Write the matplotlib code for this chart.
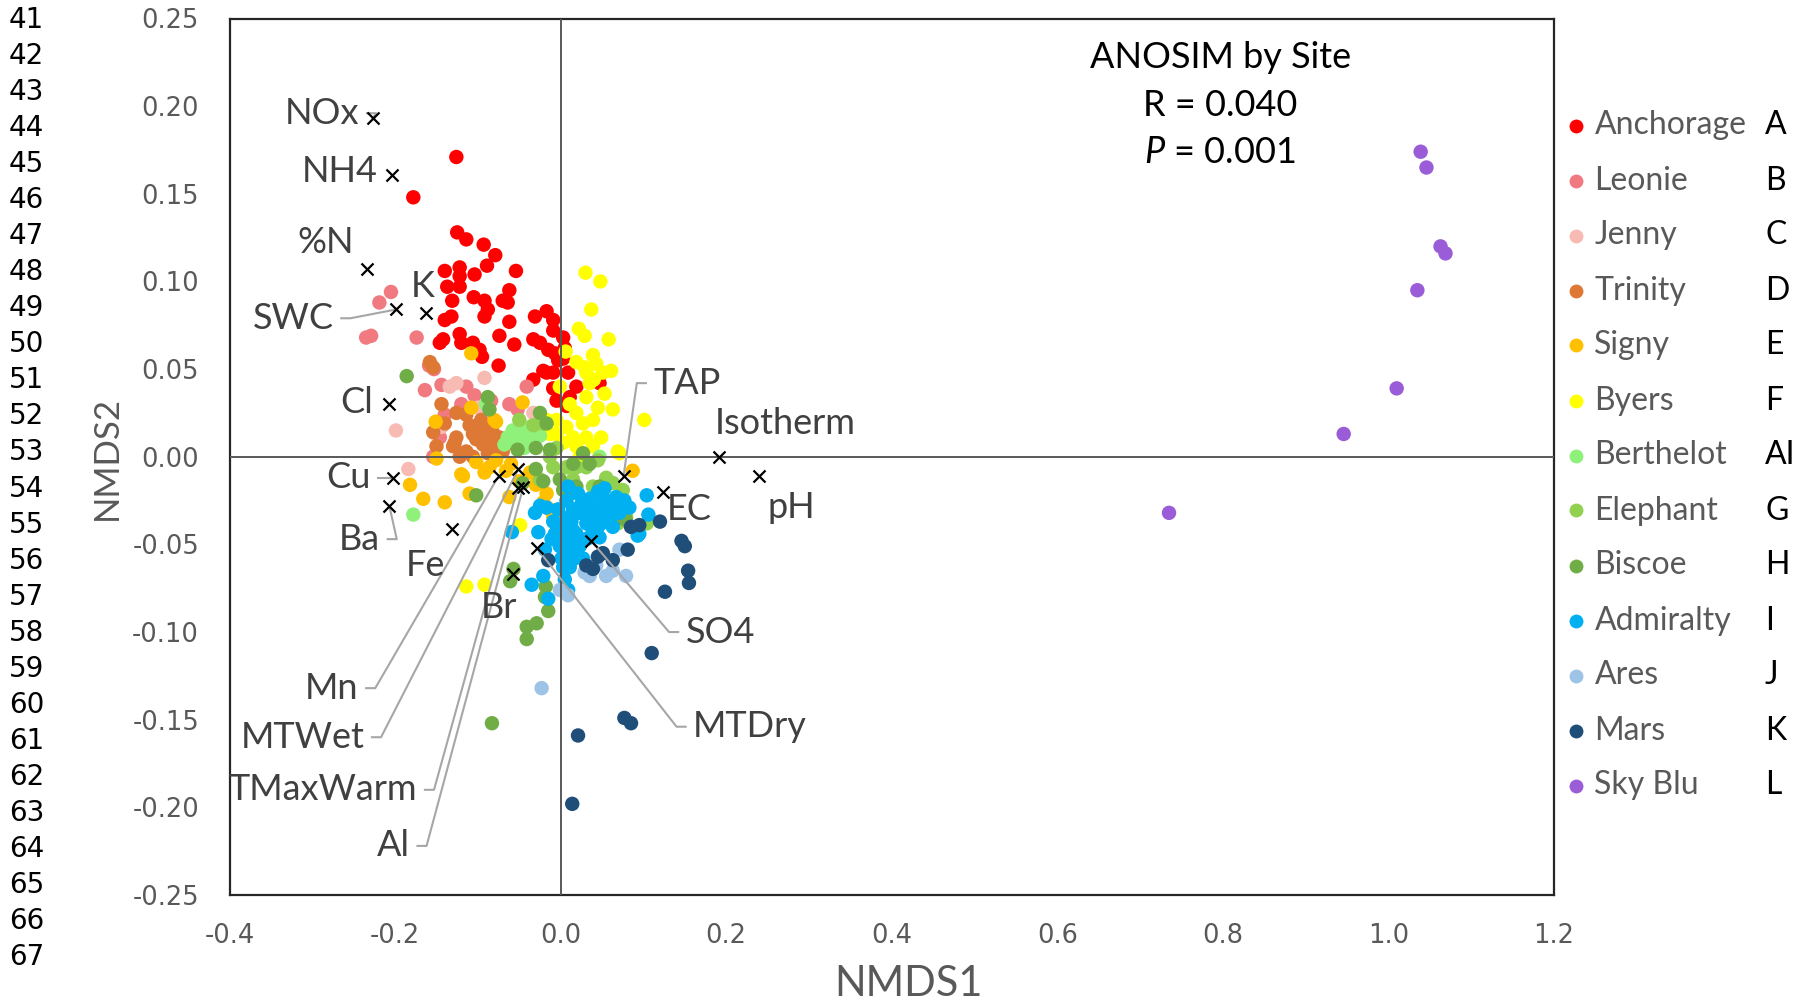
import numpy as np
import matplotlib
matplotlib.use("Agg")
import matplotlib.pyplot as plt
from matplotlib.lines import Line2D

plt.rcParams['axes.unicode_minus'] = False
plt.rcParams['mathtext.fontset'] = 'custom'
plt.rcParams['mathtext.rm'] = 'Lato'
plt.rcParams['mathtext.it'] = 'Lato:italic'

# site samples (NMDS1, NMDS2)
sites = ['Anchorage', 'Leonie', 'Jenny', 'Trinity', 'Signy', 'Byers', 'Berthelot',
         'Elephant', 'Biscoe', 'Admiralty', 'Ares', 'Mars', 'Sky Blu']
site_codes = ['A', 'B', 'C', 'D', 'E', 'F', 'AI', 'G', 'H', 'I', 'J', 'K', 'L']
site_colors = ['#FF0000', '#F07A80', '#F8BBB4', '#DE7935', '#FFC000', '#FFFF00', '#8FF07A',
               '#92D050', '#70AD47', '#00B0F0', '#9DC3E6', '#1F4E79', '#9B5CD8']

anchorage = [(-0.126, 0.171), (-0.178, 0.148), (-0.125, 0.128), (-0.114, 0.124), (-0.093, 0.121),
             (-0.079, 0.115), (-0.054, 0.106), (-0.089, 0.109), (-0.140, 0.106), (-0.122, 0.108),
             (-0.122, 0.103), (-0.104, 0.104), (-0.137, 0.097), (-0.122, 0.097), (-0.062, 0.095),
             (-0.131, 0.089), (-0.105, 0.091), (-0.092, 0.089), (-0.070, 0.089), (-0.064, 0.088),
             (-0.088, 0.084), (-0.092, 0.080), (-0.140, 0.078), (-0.132, 0.080), (-0.062, 0.077),
             (-0.122, 0.070), (-0.074, 0.069), (-0.142, 0.067), (-0.146, 0.065), (-0.120, 0.065),
             (-0.106, 0.065), (-0.056, 0.064), (-0.098, 0.061), (-0.095, 0.057), (-0.075, 0.052),
             (-0.031, 0.080), (-0.017, 0.083), (-0.009, 0.078), (-0.009, 0.072), (0.003, 0.068),
             (-0.033, 0.067), (-0.025, 0.065), (-0.015, 0.061), (-0.007, 0.059), (0.003, 0.056),
             (-0.021, 0.049), (-0.009, 0.048), (0.009, 0.048), (-0.033, 0.044), (0.019, 0.040),
             (-0.017, 0.048), (-0.009, 0.039), (0.011, 0.034), (0.007, 0.029), (0.047, 0.042),
             (-0.005, 0.032), (-0.003, 0.055), (0.005, 0.062)]
leonie = [(-0.205, 0.094), (-0.219, 0.088), (-0.229, 0.069), (-0.235, 0.068), (-0.174, 0.068),
          (-0.159, 0.052), (-0.153, 0.050), (-0.164, 0.038), (-0.144, 0.041), (-0.114, 0.040),
          (-0.041, 0.040), (-0.052, 0.027), (-0.104, 0.035), (-0.140, 0.024), (-0.146, 0.011),
          (-0.154, 0.000), (-0.062, 0.030), (-0.120, 0.030), (-0.084, 0.032)]
jenny = [(-0.199, 0.015), (-0.134, 0.040), (-0.126, 0.042), (-0.184, -0.007), (-0.100, 0.028),
         (-0.033, 0.025), (-0.144, 0.017), (-0.092, 0.045)]
trinity = [(-0.158, 0.054), (-0.154, 0.051), (-0.144, 0.030), (-0.126, 0.025), (-0.114, 0.024),
           (-0.140, 0.019), (-0.154, 0.014), (-0.150, 0.006), (-0.128, 0.008), (-0.118, 0.002),
           (-0.106, 0.013), (-0.098, 0.015), (-0.090, 0.017), (-0.082, 0.014), (-0.102, 0.010),
           (-0.086, 0.010), (-0.094, 0.007), (-0.114, 0.003), (-0.074, 0.011), (-0.070, 0.003),
           (-0.106, 0.000), (-0.122, 0.000), (-0.078, 0.006), (-0.126, 0.011), (-0.130, 0.006),
           (-0.096, 0.021), (-0.088, 0.002), (-0.110, 0.018), (-0.062, 0.008)]
signy = [(-0.108, 0.028), (-0.080, 0.021), (-0.151, 0.020), (-0.150, -0.001), (-0.120, -0.010),
         (-0.182, -0.016), (-0.166, -0.024), (-0.140, -0.026), (-0.110, -0.021), (-0.092, -0.009),
         (-0.102, -0.003), (-0.086, -0.006), (-0.108, 0.059), (-0.078, -0.002), (-0.066, -0.008),
         (-0.078, 0.020), (-0.046, 0.031), (-0.118, -0.011), (-0.062, -0.023), (-0.017, -0.021),
         (-0.019, -0.028), (-0.009, -0.034), (0.087, -0.008), (-0.037, -0.009), (-0.021, -0.026),
         (-0.013, -0.030), (-0.005, -0.042), (-0.060, -0.004), (-0.050, -0.014), (-0.030, -0.016)]
byers = [(0.030, 0.105), (0.048, 0.100), (0.037, 0.084), (0.022, 0.073), (0.029, 0.069),
         (0.058, 0.067), (0.006, 0.060), (0.039, 0.058), (0.019, 0.054), (0.029, 0.051),
         (0.043, 0.053), (0.061, 0.049), (0.051, 0.048), (0.035, 0.042), (-0.001, 0.040),
         (0.053, 0.036), (0.063, 0.027), (0.101, 0.021), (0.049, 0.011), (0.069, 0.003),
         (0.031, 0.048), (0.040, 0.044), (0.031, 0.034), (0.019, 0.025), (0.007, 0.017),
         (0.027, 0.019), (0.039, 0.021), (0.031, 0.011), (0.015, 0.011), (0.003, 0.008),
         (-0.005, 0.021), (-0.005, 0.013), (0.019, 0.006), (0.039, 0.006), (0.071, 0.002),
         (-0.017, 0.021), (-0.013, 0.013), (-0.114, -0.074), (-0.092, -0.073), (-0.049, -0.039),
         (0.011, 0.030), (0.045, 0.028), (0.023, 0.000)]
berthelot = [(-0.068, 0.007), (-0.058, 0.009), (-0.050, 0.010), (-0.041, 0.012), (-0.050, 0.016),
             (-0.033, 0.008), (-0.037, 0.017), (-0.058, 0.015), (-0.090, 0.030), (0.047, 0.000),
             (-0.178, -0.033), (-0.064, 0.011), (-0.044, 0.005), (-0.025, 0.012)]
elephant = [(-0.033, 0.018), (-0.021, 0.019), (-0.050, 0.021), (-0.013, 0.000), (-0.009, -0.006),
            (0.007, -0.006), (0.019, -0.006), (0.031, -0.006), (0.055, -0.012), (0.063, -0.015),
            (0.075, -0.019), (0.039, -0.017), (0.015, -0.013), (0.067, -0.034), (0.079, -0.034),
            (0.069, -0.038), (-0.025, -0.013), (0.104, -0.038), (-0.005, 0.005), (0.045, -0.002)]
biscoe = [(-0.088, 0.034), (-0.086, 0.027), (-0.025, 0.025), (-0.017, 0.019), (-0.030, 0.005),
          (-0.052, 0.004), (-0.013, 0.004), (0.027, 0.002), (0.015, -0.004), (0.035, -0.004),
          (-0.030, -0.007), (-0.021, -0.014), (-0.001, -0.013), (0.003, -0.019), (0.011, -0.021),
          (0.019, -0.017), (0.047, -0.017), (-0.102, -0.022), (-0.046, -0.015), (0.071, -0.035),
          (0.079, -0.036), (0.059, -0.036), (-0.186, 0.046), (-0.057, -0.064), (-0.061, -0.071),
          (-0.015, -0.088), (-0.029, -0.095), (-0.041, -0.097), (-0.041, -0.104), (-0.018, -0.074),
          (-0.083, -0.152), (-0.019, -0.080)]
admiralty = [(0.021, -0.021), (0.007, -0.025), (0.035, -0.024), (0.055, -0.025), (0.075, -0.025),
             (0.104, -0.022), (0.106, -0.033), (0.095, -0.044), (-0.025, -0.028), (-0.031, -0.032),
             (-0.017, -0.029), (-0.009, -0.037), (-0.027, -0.043), (-0.011, -0.047), (-0.019, -0.053),
             (-0.001, -0.051), (0.007, -0.035), (0.015, -0.042), (0.023, -0.032), (0.031, -0.038),
             (0.043, -0.032), (0.055, -0.032), (0.063, -0.028), (0.039, -0.042), (0.023, -0.051),
             (0.011, -0.053), (0.003, -0.063), (0.011, -0.063), (-0.021, -0.068), (-0.035, -0.073),
             (-0.015, -0.081), (0.005, -0.070), (0.009, -0.076), (-0.059, -0.043), (0.003, -0.046),
             (0.047, -0.046), (0.077, -0.025), (0.093, -0.045), (0.045, -0.020), (0.025, -0.027),
             (0.015, -0.030), (0.049, -0.038), (0.035, -0.046), (0.027, -0.058), (0.017, -0.048),
             (0.063, -0.040), (0.001, -0.058), (-0.007, -0.044), (0.009, -0.017), (0.053, -0.018),
             (0.067, -0.023), (0.013, -0.037), (0.029, -0.031), (0.041, -0.027), (0.051, -0.029),
             (0.059, -0.036), (0.019, -0.044), (0.031, -0.047), (0.045, -0.040), (0.007, -0.043),
             (0.017, -0.058), (0.071, -0.032), (0.037, -0.035), (-0.003, -0.030), (0.000, -0.040),
             (0.083, -0.029)]
ares = [(-0.001, -0.076), (0.029, -0.066), (0.055, -0.068), (0.071, -0.053), (0.079, -0.068),
        (0.063, -0.065), (-0.023, -0.132), (0.035, -0.068), (0.043, -0.062), (0.009, -0.079)]
mars = [(0.085, -0.040), (0.095, -0.039), (0.120, -0.037), (0.146, -0.048), (0.150, -0.051),
        (0.154, -0.065), (0.155, -0.072), (0.126, -0.077), (0.081, -0.053), (0.063, -0.059),
        (0.051, -0.055), (0.031, -0.062), (0.039, -0.064), (-0.015, -0.059), (0.110, -0.112),
        (0.077, -0.149), (0.085, -0.152), (0.021, -0.159), (0.014, -0.198), (0.045, -0.057)]
sky_blu = [(1.039, 0.174), (1.046, 0.165), (1.063, 0.120), (1.069, 0.116), (1.035, 0.095),
           (1.010, 0.039), (0.946, 0.013), (0.735, -0.032)]

site_points = [anchorage, leonie, jenny, trinity, signy, byers, berthelot,
               elephant, biscoe, admiralty, ares, mars, sky_blu]

# environmental variables fitted onto the ordination
env_names = ['NOx', 'NH4', '%N', 'SWC', 'K', 'Cl', 'Cu', 'Ba', 'Fe', 'Mn', 'MTWet', 'TMaxWarm',
             'Al', 'Br', 'MTDry', 'SO4', 'TAP', 'EC', 'Isotherm', 'pH']
env_x = [-0.227, -0.204, -0.234, -0.199, -0.163, -0.207, -0.203, -0.207, -0.131, -0.075, -0.051,
         -0.052, -0.045, -0.057, -0.029, 0.037, 0.076, 0.124, 0.191, 0.240]
env_y = [0.193, 0.161, 0.107, 0.084, 0.082, 0.030, -0.012, -0.028, -0.041, -0.011, -0.007,
         -0.018, -0.017, -0.067, -0.052, -0.048, -0.011, -0.020, 0.000, -0.011]
# label placement: (x, y, alignment, leader line)
env_label_pos = [(-0.243, 0.196, 'right', True), (-0.221, 0.163, 'right', False),
                 (-0.250, 0.122, 'right', False), (-0.274, 0.079, 'right', True),
                 (-0.167, 0.097, 'center', False), (-0.227, 0.031, 'right', False),
                 (-0.230, -0.012, 'right', True), (-0.218, -0.047, 'right', True),
                 (-0.140, -0.062, 'right', False), (-0.244, -0.132, 'right', True),
                 (-0.237, -0.160, 'right', True), (-0.173, -0.190, 'right', True),
                 (-0.182, -0.222, 'right', True), (-0.074, -0.086, 'center', False),
                 (0.160, -0.154, 'left', True), (0.151, -0.100, 'left', True),
                 (0.112, 0.042, 'left', True), (0.128, -0.030, 'left', False),
                 (0.186, 0.019, 'left', False), (0.250, -0.029, 'left', False)]

line_numbers = list(range(41, 68))

label_font = ['Lato', 'DejaVu Sans']
grey_txt = '#404040'

fig = plt.figure(figsize=(18.09, 10), dpi=100)
ax = fig.add_axes([0.1269, 0.105, 0.7321, 0.8765])

for pts, col in zip(site_points, site_colors):
    arr = np.array(pts)
    ax.scatter(arr[:, 0], arr[:, 1], s=108, color=col, edgecolors='none', zorder=2)

ax.axhline(0, color='#595959', lw=1.4, zorder=3)
ax.axvline(0, color='#595959', lw=1.4, zorder=3)

ax.scatter(env_x, env_y, marker='x', s=75, color='black', linewidths=1.6, zorder=5)

gap, stub = 0.009, 0.011
for name, vx, vy, (tx, ty, ha, leader) in zip(env_names, env_x, env_y, env_label_pos):
    ax.text(tx, ty, name, ha=ha, va='center', fontsize=26, color=grey_txt,
            family=label_font, zorder=6)
    if leader:
        sgn = 1 if ha == 'right' else -1
        x0 = tx + sgn * gap
        x1 = x0 + sgn * stub
        ax.plot([x0, x1, vx], [ty, ty, vy], color='#A6A6A6', lw=1.5, zorder=4)

ax.set_xlim(-0.4, 1.2)
ax.set_ylim(-0.25, 0.25)
xt = np.round(np.arange(-0.4, 1.201, 0.2), 1)
yt = np.round(np.arange(-0.25, 0.2501, 0.05), 2)
ax.set_xticks(xt)
ax.set_xticklabels([f'{v + 0:.1f}' for v in xt])
ax.set_yticks(yt)
ax.set_yticklabels([f'{v + 0:.2f}' for v in yt])
ax.tick_params(length=0, labelsize=18.5, labelcolor='#595959')
ax.tick_params(axis='y', pad=22)
ax.tick_params(axis='x', pad=20)
for sp in ax.spines.values():
    sp.set_color('#262626')
    sp.set_linewidth(1.6)

fig.text(0.502, 0.016, 'NMDS1', ha='center', va='center', fontsize=30, color='#595959',
         family=label_font)
fig.text(0.0591, 0.542, 'NMDS2', ha='center', va='center', rotation=90, fontsize=25,
         color='#595959', family=label_font)

ax.text(0.748, 0.955, 'ANOSIM by Site', transform=ax.transAxes, ha='center', va='center',
        fontsize=26, family=label_font, color='black')
ax.text(0.748, 0.901, 'R = 0.040', transform=ax.transAxes, ha='center', va='center',
        fontsize=26, family=label_font, color='black')
ax.text(0.748, 0.847, r'$\mathit{P}$ = 0.001', transform=ax.transAxes, ha='center',
        va='center', fontsize=26, family=label_font, color='black')

# legend drawn as a column beside the plot
row0, step = 125.5, 55.0
for i, (name, code, col) in enumerate(zip(sites, site_codes, site_colors)):
    yf = 1 - (row0 + i * step) / 1000
    fig.add_artist(Line2D([0.8712], [yf], marker='o', markersize=10, color=col,
                          markeredgecolor='none', linestyle='none',
                          transform=fig.transFigure))
    fig.text(0.8814, yf, name, ha='left', va='center', fontsize=23, color='#595959',
             family=label_font)
    fig.text(0.9757, yf, code, ha='left', va='center', fontsize=23, color='black',
             family=label_font)

# manuscript line numbers
for i, n in enumerate(line_numbers):
    fig.text(9 / 1809, 1 - (19.6 + i * 36.07) / 1000, str(n), ha='left', va='center',
             fontsize=20, color='black', family='DejaVu Sans')

fig.savefig('out.png', dpi=100)
